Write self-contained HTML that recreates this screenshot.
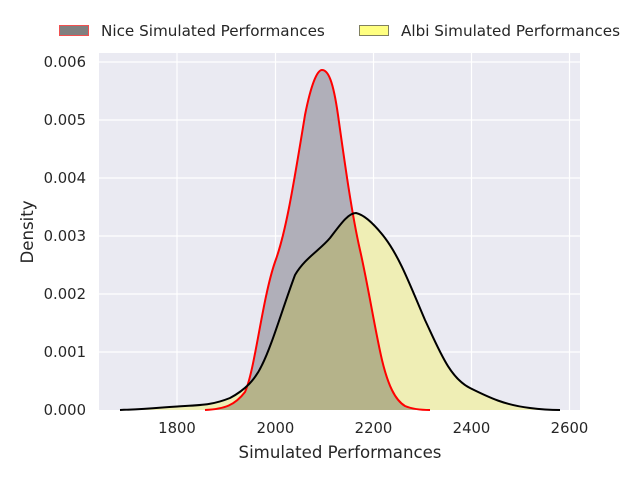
<!DOCTYPE html>
<html><head><style>body{margin:0;background:#fff}svg{display:block;font-family:"DejaVu Sans","Liberation Sans",sans-serif}</style></head><body>
<svg width="640" height="480" viewBox="0 0 640 480">
<defs>
<clipPath id="nc"><path id="niceP" d="M205,410 C225,409 235,405 245,392 C255,370 262,300 275,262 C285,235 292,195 305,115 C312,80 318,70 322,70 C328,70 333,80 338,115 C345,165 352,215 360,250 C368,285 375,330 382,360 C388,385 395,400 405,406 C412,409 420,410 430,410 Z"/></clipPath>
</defs>
<rect x="99" y="53" width="481" height="357" fill="#eaeaf2"/>
<g stroke="#fff" stroke-width="1.2">
<line x1="177" y1="53" x2="177" y2="410"/><line x1="275.5" y1="53" x2="275.5" y2="410"/><line x1="373.5" y1="53" x2="373.5" y2="410"/><line x1="471.5" y1="53" x2="471.5" y2="410"/><line x1="569.5" y1="53" x2="569.5" y2="410"/>
<line x1="99" y1="62" x2="580" y2="62"/><line x1="99" y1="120" x2="580" y2="120"/><line x1="99" y1="178" x2="580" y2="178"/><line x1="99" y1="236" x2="580" y2="236"/><line x1="99" y1="294" x2="580" y2="294"/><line x1="99" y1="352" x2="580" y2="352"/>
</g>
<path d="M205,410 C225,409 235,405 245,392 C255,370 262,300 275,262 C285,235 292,195 305,115 C312,80 318,70 322,70 C328,70 333,80 338,115 C345,165 352,215 360,250 C368,285 375,330 382,360 C388,385 395,400 405,406 C412,409 420,410 430,410 Z" fill="#b0afb9"/>
<path id="albiF" d="M120,410 C150,409 165,407 185,406 C205,405 215,404 230,398 C245,390 255,380 262,365 C272,345 282,310 295,275 C305,258 320,250 330,238 C340,225 348,213 356,213 C365,215 375,225 385,238 C400,258 410,285 425,320 C440,352 450,378 470,388 C490,398 505,405 530,408 C545,410 555,410 560,410 Z" fill="#efeeb5"/>
<path clip-path="url(#nc)" d="M120,410 C150,409 165,407 185,406 C205,405 215,404 230,398 C245,390 255,380 262,365 C272,345 282,310 295,275 C305,258 320,250 330,238 C340,225 348,213 356,213 C365,215 375,225 385,238 C400,258 410,285 425,320 C440,352 450,378 470,388 C490,398 505,405 530,408 C545,410 555,410 560,410 Z" fill="#b5b38a"/>
<path d="M205,410 C225,409 235,405 245,392 C255,370 262,300 275,262 C285,235 292,195 305,115 C312,80 318,70 322,70 C328,70 333,80 338,115 C345,165 352,215 360,250 C368,285 375,330 382,360 C388,385 395,400 405,406 C412,409 420,410 430,410" fill="none" stroke="#f00" stroke-width="2"/>
<path d="M120,410 C150,409 165,407 185,406 C205,405 215,404 230,398 C245,390 255,380 262,365 C272,345 282,310 295,275 C305,258 320,250 330,238 C340,225 348,213 356,213 C365,215 375,225 385,238 C400,258 410,285 425,320 C440,352 450,378 470,388 C490,398 505,405 530,408 C545,410 555,410 560,410" fill="none" stroke="#000" stroke-width="2"/>
<g font-size="14.8" fill="#262626" text-anchor="end">
<text x="86" y="67">0.006</text><text x="86" y="125">0.005</text><text x="86" y="183">0.004</text><text x="86" y="241">0.003</text><text x="86" y="299">0.002</text><text x="86" y="357">0.001</text><text x="86" y="415">0.000</text>
</g>
<g font-size="14.8" fill="#262626" text-anchor="middle">
<text x="177" y="433">1800</text><text x="275.5" y="433">2000</text><text x="373.5" y="433">2200</text><text x="471.5" y="433">2400</text><text x="569.5" y="433">2600</text>
<text x="340" y="458" font-size="16.6">Simulated Performances</text>
<text transform="translate(33,232) rotate(-90)" font-size="16.6">Density</text>
</g>
<rect x="59.5" y="25.5" width="29" height="10" fill="#808080" stroke="#f05050"/>
<rect x="359.5" y="25.5" width="29" height="10" fill="#ffff80" stroke="#808060"/>
<g font-size="15.2" fill="#262626"><text x="101" y="36">Nice Simulated Performances</text><text x="401" y="36">Albi Simulated Performances</text></g>
</svg>
</body></html>
